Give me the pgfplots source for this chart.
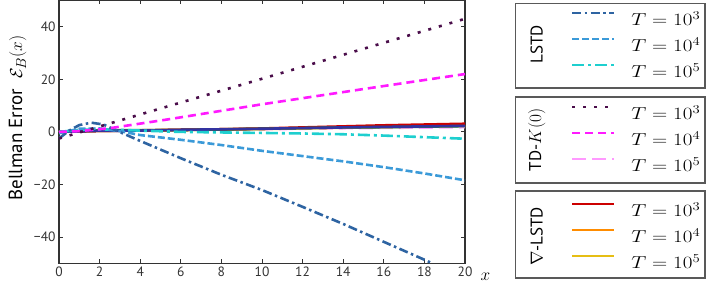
\documentclass[border=0pt]{standalone}
\usepackage{fontspec}
\setmainfont{PT Sans}
\usepackage{graphicx}
\usepackage{pgfplots}
\pgfplotsset{compat=1.18}

\definecolor{lsA}{HTML}{2E64A2}
\definecolor{lsB}{HTML}{3B9AD8}
\definecolor{lsC}{HTML}{1ECFCF}
\definecolor{tdA}{HTML}{4A0D4A}
\definecolor{tdB}{HTML}{FF1AFF}
\definecolor{tdC}{HTML}{FF99FF}
\definecolor{gdA}{HTML}{CC0000}
\definecolor{gdB}{HTML}{FF8C00}
\definecolor{gdC}{HTML}{E6BE14}
\definecolor{navy}{HTML}{3333A0}
\definecolor{grn}{HTML}{2E8B2E}
\definecolor{axc}{HTML}{333333}

\tikzset{
  sLSA/.style={lsA, dash pattern=on 9pt off 3.5pt on 2.5pt off 3.5pt},
  sLSB/.style={lsB, dash pattern=on 7pt off 3pt},
  sLSC/.style={lsC, dash pattern=on 12pt off 4pt on 3pt off 4pt},
  sTDA/.style={tdA, dash pattern=on 3pt off 8pt},
  sTDB/.style={tdB, dash pattern=on 8pt off 5pt},
  sTDC/.style={tdC, dash pattern=on 14pt off 6pt},
  sGDA/.style={gdA},
  sGDB/.style={gdB},
  sGDC/.style={gdC},
}

\pgfplotsset{legaxis/.style={at={(0,0)}, anchor=south west, scale only axis,
  width=406pt, height=263pt, hide axis, xmin=0, xmax=1, ymin=0, ymax=1,
  legend cell align=left,
  legend image code/.code={\draw[##1, line width=2.3pt] (0pt,7pt) -- (42pt,7pt);},
  legend style={draw=none, fill=none, inner sep=0pt, outer sep=0pt,
    anchor=north west, row sep=9pt, column sep=16pt,
    font=\fontsize{16.5}{19}\selectfont,
    nodes={inner sep=0pt, text height=14pt, text depth=3pt}},
}}

\begin{document}
\begin{tikzpicture}
\begin{axis}[
  at={(0,0)}, anchor=south west, scale only axis,
  width=406pt, height=263pt,
  xmin=0, xmax=20, ymin=-50, ymax=50,
  xtick={0,2,...,20}, ytick={-40,-20,0,20,40},
  yticklabels={−40,−20,0,20,40},
  /pgf/number format/assume math mode=true,
  tick label style={font=\fontsize{13.5}{16}\selectfont, color=axc},
  tick align=inside, major tick length=4pt,
  tick style={color=axc, line width=0.9pt},
  axis line style={color=axc, line width=1.2pt},
  xlabel={$x$},
  xlabel style={at={(axis description cs:1,0)}, anchor=west, xshift=12pt, yshift=-13pt, font=\fontsize{18}{20}\selectfont},
  ylabel={Bellman Error\ \ $\mathcal{E}_B(x)$},
  ylabel style={at={(axis description cs:-0.102,0.553)}, anchor=center, font=\fontsize{19}{21}\selectfont},
  every axis plot/.append style={line width=2.6pt},
]
% hidden / background series
\addplot[sTDC] coordinates {(0,0) (2,0.5) (6,0.7) (10,1.0) (14,1.4) (20,1.8)};
\addplot[sGDC] coordinates {(0,0) (2,0.4) (6,0.7) (10,1.1) (14,1.6) (20,2.3)};
\addplot[sGDB] coordinates {(0,0) (2,0.4) (6,0.8) (10,1.2) (14,1.8) (20,2.5)};
\addplot[sGDA] coordinates {(0,0) (2,0.4) (4,0.5) (6,0.8) (8,1.0) (10,1.3) (12,1.7) (14,2.1) (16,2.5) (18,2.8) (20,3.1)};
\addplot[grn] coordinates {(0,0) (2,0.6) (6,0.7) (10,1.2) (14,1.7) (16,1.8) (20,2.2)};
\addplot[navy] coordinates {(0,0) (2,0.4) (4,0.5) (6,0.8) (10,1.2) (14,1.7) (20,2.3)};
% LSTD
\addplot[sLSC] coordinates {(0,0) (1,0.8) (2,1) (4,0.5) (6,0) (8,-0.2) (10,-0.4) (12,-0.6) (14,-0.9) (16,-1.4) (18,-2) (20,-2.6)};
\addplot[sLSB] coordinates {(0,-0.5) (1,1.2) (2,1.3) (3,0.3) (4,-1.2) (6,-3) (8,-5) (10,-7.2) (12,-9.2) (14,-11.2) (16,-13.4) (18,-15.8) (20,-18.4)};
\addplot[sLSA] coordinates {(0,-2.5) (0.5,0.5) (1,2.6) (1.6,3.5) (2.2,2.8) (2.8,0.6) (3.9,-3.1) (6,-10) (8,-16.3) (10,-22.1) (12,-28.5) (14,-35) (16,-41.8) (18,-48.6) (18.4,-50)};
% TD
\addplot[sTDB] coordinates {(0,0) (1,0.3) (2.5,1.4) (5.4,4.8) (10,10.5) (15,16.3) (20,22)};
\addplot[sTDA] coordinates {(0,-2.5) (5,8.9) (10,20.2) (15,31.6) (20,43)};
\end{axis}

\begin{axis}[legaxis, legend style={at={(axis description cs:1.2611,0.9586)}}]
\addlegendimage{sLSA}\addlegendentry{\scalebox{1.22}[1]{$T=10^3$}}
\addlegendimage{sLSB}\addlegendentry{\scalebox{1.22}[1]{$T=10^4$}}
\addlegendimage{sLSC}\addlegendentry{\scalebox{1.22}[1]{$T=10^5$}}
\end{axis}
\begin{axis}[legaxis, legend style={at={(axis description cs:1.2611,0.5992)}}]
\addlegendimage{sTDA}\addlegendentry{\scalebox{1.22}[1]{$T=10^3$}}
\addlegendimage{sTDB}\addlegendentry{\scalebox{1.22}[1]{$T=10^4$}}
\addlegendimage{sTDC}\addlegendentry{\scalebox{1.22}[1]{$T=10^5$}}
\end{axis}
\begin{axis}[legaxis, legend style={at={(axis description cs:1.2611,0.2323)}}]
\addlegendimage{sGDA}\addlegendentry{\scalebox{1.22}[1]{$T=10^3$}}
\addlegendimage{sGDB}\addlegendentry{\scalebox{1.22}[1]{$T=10^4$}}
\addlegendimage{sGDC}\addlegendentry{\scalebox{1.22}[1]{$T=10^5$}}
\end{axis}

\draw[black!65, line width=1.2pt] (456.5pt,259.9pt) rectangle (646pt,175.4pt);
\draw[black!65, line width=1.2pt] (456.5pt,166.4pt) rectangle (646pt,80.4pt);
\draw[black!65, line width=1.2pt] (456.5pt,72.4pt) rectangle (646pt,-14.6pt);
\node[rotate=90, font=\fontsize{17}{20}\selectfont] at (477.7pt,219pt) {LSTD};
\node[rotate=90, font=\fontsize{17}{20}\selectfont] at (477.7pt,123.4pt) {TD-$K(0)$};
\node[rotate=90, font=\fontsize{17}{20}\selectfont] at (477.7pt,27pt) {$\nabla$-LSTD};

\pgfresetboundingbox
\path (-59pt,-21.6pt) rectangle (647pt,263.4pt);
\end{tikzpicture}
\end{document}
